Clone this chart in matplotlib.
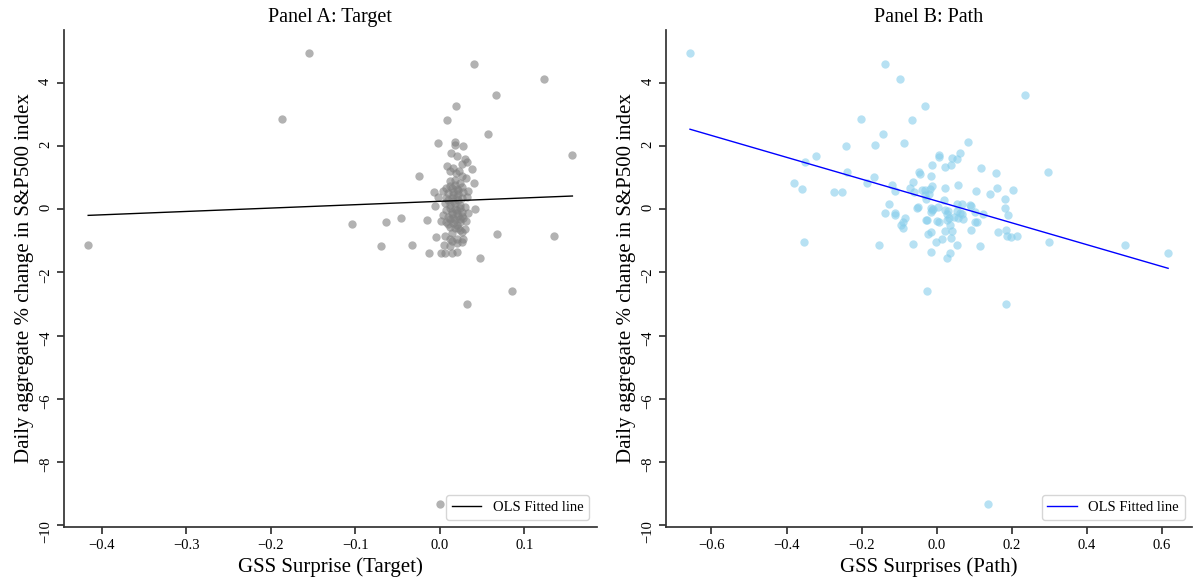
import numpy as np
import matplotlib
matplotlib.use("Agg")
import matplotlib.pyplot as plt

plt.rcParams['font.family'] = ['Liberation Serif', 'DejaVu Serif']

# Panel A: target surprise vs daily S&P500 % change
target_x = [-0.416, -0.187, -0.155, -0.104, -0.070, -0.064, -0.046, -0.033, -0.025, -0.015,
            -0.013, 0.000, 0.032, 0.085, 0.048, 0.068, 0.135, 0.157, 0.123, 0.067,
            0.041, 0.019, 0.009, 0.057, -0.002, 0.018, 0.018, 0.027, 0.001, 0.006,
            0.013, 0.020, 0.030, 0.032, 0.026, 0.009, 0.038, 0.012, 0.019, 0.023,
            0.031, 0.041, 0.012, 0.018, 0.024, 0.008, 0.014, 0.020, 0.026, -0.007,
            0.004, 0.010, 0.016, 0.022, 0.028, 0.034, -0.002, 0.008, 0.014, 0.020,
            0.026, 0.032, -0.006, 0.006, 0.012, 0.018, 0.024, 0.030, 0.042, 0.008,
            0.014, 0.020, 0.026, 0.033, 0.004, 0.010, 0.016, 0.022, 0.028, 0.002,
            0.008, 0.016, 0.024, 0.031, 0.012, 0.018, 0.024, 0.030, 0.015, 0.026,
            -0.004, 0.006, 0.012, 0.020, 0.028, 0.005, 0.012, 0.020, 0.026, 0.015,
            0.020, 0.010, 0.016, 0.022, 0.012, 0.018, 0.024, 0.014, 0.020, 0.026,
            0.012, 0.018, 0.024, 0.010, 0.020, 0.016, 0.022, 0.012, 0.018, 0.026,
            0.016, 0.014, 0.022]
target_y = [-1.12, 2.85, 4.96, -0.48, -1.15, -0.40, -0.28, -1.12, 1.06, -0.34,
            -1.39, -9.35, -3.00, -2.58, -1.54, -0.80, -0.84, 1.71, 4.13, 3.63,
            4.61, 3.27, 2.81, 2.39, 2.10, 2.14, 2.04, 2.00, -1.38, -1.38,
            1.77, 1.68, 1.60, 1.49, 1.43, 1.37, 1.28, 1.20, 1.14, 1.20,
            0.99, 0.84, 0.88, 0.77, 0.83, 0.67, 0.67, 0.65, 0.69, 0.54,
            0.58, 0.51, 0.56, 0.48, 0.56, 0.58, 0.39, 0.37, 0.35, 0.39,
            0.35, 0.40, 0.11, 0.19, 0.14, 0.19, 0.14, 0.08, 0.02, -0.02,
            -0.08, -0.02, -0.10, -0.12, -0.18, -0.24, -0.27, -0.20, -0.29, -0.37,
            -0.39, -0.45, -0.39, -0.37, -0.55, -0.61, -0.66, -0.63, -0.75, -0.71,
            -0.87, -0.84, -0.93, -0.93, -0.93, -1.12, -1.16, -1.08, -1.03, -1.40,
            -1.35, 0.30, 0.25, 0.28, 0.05, 0.02, 0.05, -0.14, -0.12, -0.22,
            -0.32, -0.34, -0.30, -0.48, -0.50, 0.46, 0.62, 0.73, 0.92, 1.05,
            1.30, -1.00, -0.58]

# Panel B: path surprise vs daily S&P500 % change
path_x = [-0.657, -0.138, -0.099, 0.234, -0.031, -0.202, -0.065, -0.142, 0.082, -0.086,
          -0.242, -0.165, -0.321, -0.351, 0.061, 0.006, 0.006, 0.041, 0.053, 0.038,
          0.023, -0.013, 0.118, 0.159, 0.296, -0.047, -0.045, -0.239, -0.015, -0.167,
          -0.064, -0.186, -0.381, -0.118, 0.056, -0.012, -0.358, -0.072, -0.110, 0.023,
          0.161, 0.202, 0.105, 0.141, -0.273, -0.253, -0.060, -0.040, -0.030, -0.017,
          -0.032, -0.021, -0.028, 0.020, 0.182, -0.127, 0.053, 0.068, 0.089, 0.092,
          -0.053, -0.050, -0.016, -0.013, -0.011, 0.004, 0.021, 0.182, -0.138, -0.111,
          -0.112, -0.015, 0.031, 0.026, 0.054, 0.061, 0.066, 0.057, 0.069, 0.047,
          0.103, 0.124, 0.190, -0.085, -0.090, -0.094, -0.091, -0.029, -0.026, 0.002,
          0.007, 0.026, 0.032, 0.101, 0.107, 0.023, 0.041, 0.034, 0.090, 0.163,
          0.185, 0.188, 0.199, 0.214, -0.024, -0.016, 0.015, 0.038, -0.002, -0.354,
          0.300, -0.153, -0.064, 0.053, 0.115, 0.502, -0.015, 0.034, 0.026, 0.616,
          -0.026, 0.185, 0.136]
path_y = [4.96, 4.61, 4.13, 3.63, 3.27, 2.85, 2.81, 2.39, 2.13, 2.10,
          2.00, 2.03, 1.67, 1.48, 1.77, 1.71, 1.65, 1.62, 1.58, 1.41,
          1.34, 1.41, 1.29, 1.15, 1.19, 1.19, 1.12, 1.19, 1.06, 1.01,
          0.86, 0.83, 0.83, 0.77, 0.77, 0.73, 0.63, 0.66, 0.58, 0.66,
          0.67, 0.62, 0.57, 0.48, 0.53, 0.53, 0.54, 0.60, 0.62, 0.63,
          0.46, 0.48, 0.31, 0.29, 0.31, 0.18, 0.16, 0.18, 0.12, 0.10,
          0.03, 0.07, 0.03, -0.03, 0.00, 0.06, -0.01, 0.04, -0.11, -0.12,
          -0.18, -0.08, -0.07, -0.16, -0.06, -0.11, -0.16, -0.27, -0.32, -0.24,
          -0.08, -0.15, -0.18, -0.28, -0.42, -0.49, -0.61, -0.35, -0.33, -0.37,
          -0.40, -0.33, -0.29, -0.40, -0.42, -0.68, -0.68, -0.51, -0.65, -0.73,
          -0.67, -0.84, -0.87, -0.84, -0.79, -0.73, -0.93, -0.90, -1.03, -1.03,
          -1.03, -1.13, -1.10, -1.13, -1.16, -1.13, -1.35, -1.39, -1.56, -1.39,
          -2.58, -3.00, -9.35]

# OLS fits: (intercept, slope)
fit_target = (0.25, 1.07)
fit_path = (0.26, -3.46)

panels = [
    ("Panel A: Target", "GSS Surprise (Target)", target_x, target_y, fit_target, "gray", "black",
     [0.0534, 0.0991, 0.4446, 0.8496]),
    ("Panel B: Path", "GSS Surprises (Path)", path_x, path_y, fit_path, "skyblue", "blue",
     [0.556, 0.0991, 0.439, 0.8496]),
]

fig = plt.figure(figsize=(11.98, 5.85), dpi=100)
for title, xlabel, xs, ys, fit, dot_color, line_color, rect in panels:
    ax = fig.add_axes(rect)
    ax.scatter(xs, ys, s=36, color=dot_color, alpha=0.6, linewidths=0)
    xx = np.array([min(xs), max(xs)])
    ax.plot(xx, fit[0] + fit[1] * xx, color=line_color, lw=1, label="OLS Fitted line")
    ax.set_title(title, fontsize=14.5)
    ax.set_xlabel(xlabel, fontsize=15)
    ax.set_ylabel("Daily aggregate % change in S&P500 index", fontsize=15)
    ax.set_yticks([-10, -8, -6, -4, -2, 0, 2, 4])
    ax.tick_params(axis='y', labelrotation=90)
    ax.tick_params(labelsize=10.5, length=5, width=1.25, color='#333333')
    for side in ['top', 'right']:
        ax.spines[side].set_visible(False)
    for side in ['left', 'bottom']:
        ax.spines[side].set_linewidth(1.25)
        ax.spines[side].set_color('#333333')
    ax.legend(loc='lower right', fontsize=10.5)

fig.savefig("out.png", dpi=100)
